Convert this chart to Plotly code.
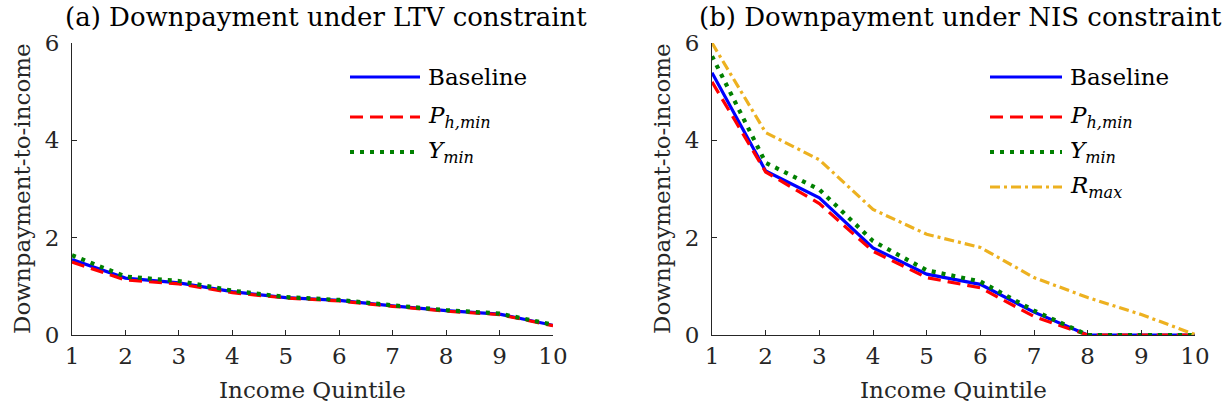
import plotly.graph_objects as go

quintiles = [1, 2, 3, 4, 5, 6, 7, 8, 9, 10]

# Panel (a): LTV constraint
ltv_baseline = [1.55, 1.17, 1.07, 0.89, 0.77, 0.71, 0.60, 0.50, 0.43, 0.20]
ltv_phmin    = [1.50, 1.13, 1.05, 0.87, 0.76, 0.70, 0.59, 0.49, 0.42, 0.19]
ltv_ymin     = [1.64, 1.20, 1.11, 0.91, 0.78, 0.72, 0.61, 0.51, 0.44, 0.21]

# Panel (b): NIS constraint
nis_baseline = [5.39, 3.37, 2.82, 1.79, 1.25, 1.04, 0.47, 0.0, 0.0, 0.0]
nis_phmin    = [5.20, 3.35, 2.70, 1.72, 1.18, 0.97, 0.38, 0.0, 0.0, 0.0]
nis_ymin     = [5.73, 3.54, 2.99, 1.93, 1.33, 1.10, 0.50, 0.0, 0.0, 0.0]
nis_rmax     = [6.00, 4.16, 3.60, 2.58, 2.07, 1.80, 1.18, 0.77, 0.42, 0.01]

series_names = ["Baseline", "<i>P</i><sub><i>h,min</i></sub>",
                "<i>Y</i><sub><i>min</i></sub>", "<i>R</i><sub><i>max</i></sub>"]
panel_titles = ["(a) Downpayment under LTV constraint", "(b) Downpayment under NIS constraint"]
x_title = "Income Quintile"
y_title = "Downpayment-to-income"

W, H = 1225, 411
FONT = "DejaVu Serif"
AXC = "#262626"
FS = 23

styles = [
    dict(color="#0000FF", width=3.2, dash="solid"),
    dict(color="#FF0000", width=3.2, dash="13px,7px"),
    dict(color="#008000", width=4.2, dash="4px,6px"),
    dict(color="#EDB120", width=3.2, dash="10px,4px,3px,4px"),
]

fig = go.Figure()

panels = [
    ("x", "y", [ltv_baseline, ltv_phmin, ltv_ymin]),
    ("x2", "y2", [nis_baseline, nis_phmin, nis_ymin, nis_rmax]),
]
for xa, ya, sers in panels:
    for i, s in enumerate(sers):
        fig.add_trace(go.Scatter(x=quintiles, y=s, mode="lines", xaxis=xa, yaxis=ya,
                                 line=styles[i], showlegend=False, name=series_names[i]))

def px(x):
    return x / W

def py(y):
    return 1 - y / H

axis_common = dict(showline=True, linecolor=AXC, linewidth=1, ticks="inside", ticklen=5,
                   tickcolor=AXC, showgrid=False, zeroline=False, mirror=False, automargin=False,
                   tickfont=dict(family=FONT, size=FS, color=AXC))

y_dom = [py(335), py(43)]
fig.update_layout(
    width=W, height=H, margin=dict(l=0, r=0, t=0, b=0, autoexpand=False),
    paper_bgcolor="white", plot_bgcolor="white",
    xaxis=dict(domain=[px(72), px(553)], range=[1, 10], tickvals=quintiles, anchor="y", **axis_common),
    yaxis=dict(domain=y_dom, range=[0, 6], tickvals=[0, 2, 4, 6], anchor="x",
               ticklabelstandoff=7, **axis_common),
    xaxis2=dict(domain=[px(712), px(1195)], range=[1, 10], tickvals=quintiles, anchor="y2", **axis_common),
    yaxis2=dict(domain=y_dom, range=[0, 6], tickvals=[0, 2, 4, 6], anchor="x2",
                ticklabelstandoff=7, **axis_common),
)

# Titles and axis titles
for title, cx, ax0, ax1 in [(panel_titles[0], 326, 72, 553), (panel_titles[1], 960, 712, 1195)]:
    fig.add_annotation(text=title, x=px(cx), y=py(17), xref="paper", yref="paper",
                       xanchor="center", yanchor="middle", showarrow=False,
                       font=dict(family=FONT, size=26, color="black"))
    fig.add_annotation(text=x_title, x=px((ax0 + ax1) / 2), y=py(390), xref="paper", yref="paper",
                       xanchor="center", yanchor="middle", showarrow=False,
                       font=dict(family=FONT, size=FS, color=AXC))
    fig.add_annotation(text=y_title, x=px(ax0 - 50), y=py(189), xref="paper", yref="paper",
                       xanchor="center", yanchor="middle", showarrow=False, textangle=-90,
                       font=dict(family=FONT, size=FS, color=AXC))

# Custom legends (long line samples)
legend_rows = [77, 117, 152, 187]
for (x0, x1, n) in [(350, 420, 3), (990, 1062, 4)]:
    for i in range(n):
        yy = py(legend_rows[i])
        st = styles[i]
        fig.add_shape(type="line", xref="paper", yref="paper", x0=px(x0), x1=px(x1), y0=yy, y1=yy,
                      line=dict(color=st["color"], width=st["width"], dash=st["dash"]))
        fig.add_annotation(text=series_names[i], x=px(x1 + 6), y=yy, xref="paper", yref="paper",
                           xanchor="left", yanchor="middle", showarrow=False,
                           font=dict(family=FONT, size=FS, color="black"))

fig.write_html("out.html")
